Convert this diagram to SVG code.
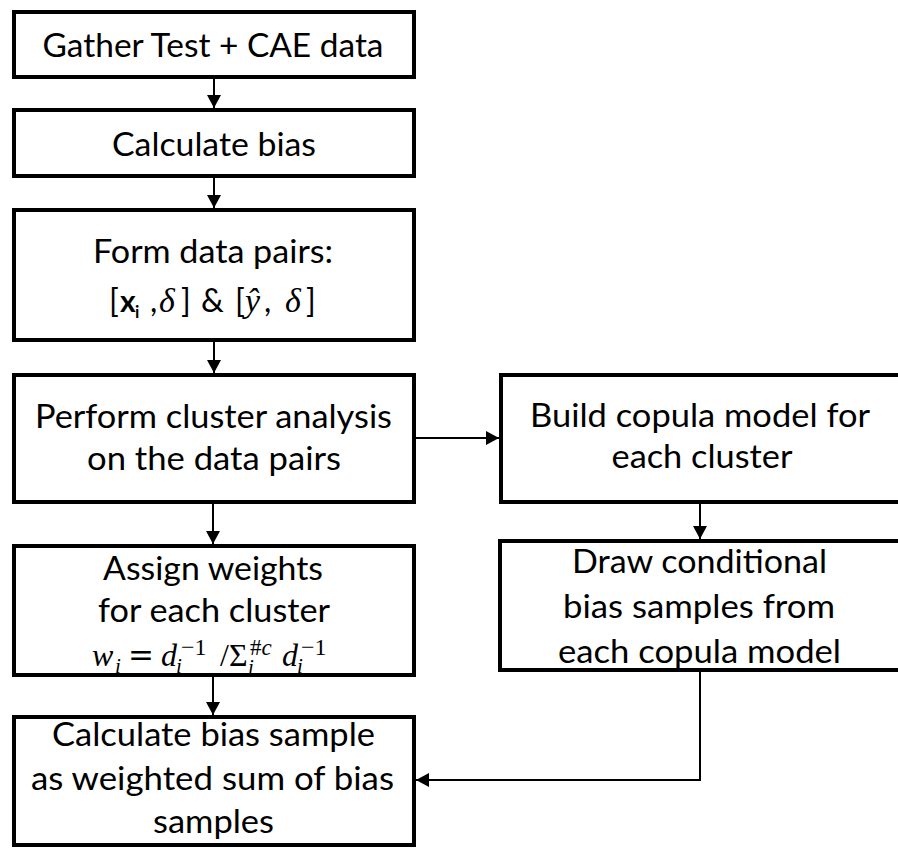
<svg xmlns="http://www.w3.org/2000/svg" width="898" height="848" viewBox="0 0 898 848">
  <style>
    .box { fill: #ffffff; stroke: #000000; stroke-width: 4; }
    .t { font-family: Lato, "Open Sans", "Liberation Sans", sans-serif; font-size: 32px; fill: #000000; text-anchor: middle; }
    .m { font-family: "Liberation Serif", "DejaVu Serif", serif; font-style: italic; font-size: 32px; fill: #000000; }
    .up { font-family: Lato, "Liberation Sans", sans-serif; font-style: normal; }
    .conn { fill: none; stroke: #000000; stroke-width: 2; }
  </style>
  <defs>
    <marker id="arrow" markerUnits="userSpaceOnUse" markerWidth="14" markerHeight="14" refX="13" refY="7" orient="auto">
      <path d="M0,0 L13,7 L0,14 z" fill="#000000"/>
    </marker>
  </defs>

  <rect width="898" height="848" fill="#ffffff"/>

  <!-- connectors -->
  <g id="connectors">
    <line class="conn" x1="214" y1="79" x2="214" y2="108" marker-end="url(#arrow)"/>
    <line class="conn" x1="214" y1="178" x2="214" y2="208" marker-end="url(#arrow)"/>
    <line class="conn" x1="214" y1="342" x2="214" y2="373" marker-end="url(#arrow)"/>
    <line class="conn" x1="213" y1="504" x2="213" y2="544" marker-end="url(#arrow)"/>
    <line class="conn" x1="213" y1="677" x2="213" y2="715" marker-end="url(#arrow)"/>
    <line class="conn" x1="416" y1="438" x2="499" y2="438" marker-end="url(#arrow)"/>
    <line class="conn" x1="700" y1="504" x2="700" y2="539" marker-end="url(#arrow)"/>
    <polyline class="conn" points="700,672 700,780 416,780" marker-end="url(#arrow)"/>
  </g>

  <!-- process steps -->
  <g id="gather">
    <rect class="box" x="14" y="12" width="400" height="65"/>
    <text class="t" x="213" y="57" textLength="341" lengthAdjust="spacingAndGlyphs">Gather Test + CAE data</text>
  </g>

  <g id="calc-bias">
    <rect class="box" x="14" y="110" width="400" height="66"/>
    <text class="t" x="214" y="156" textLength="204" lengthAdjust="spacingAndGlyphs">Calculate bias</text>
  </g>

  <g id="data-pairs">
    <rect class="box" x="14" y="210" width="400" height="130"/>
    <text class="t" x="213" y="263" textLength="240" lengthAdjust="spacingAndGlyphs">Form data pairs:</text>
    <text class="m" y="312"><tspan class="up" x="109">[</tspan><tspan class="up" x="120" font-size="30" font-weight="bold">x</tspan><tspan class="up" x="135" y="318" font-size="17" font-weight="bold">i</tspan><tspan class="up" x="150" y="312">,</tspan><tspan x="159" font-size="34">δ</tspan><tspan class="up" x="181">]</tspan><tspan class="up" x="201">&amp;</tspan><tspan class="up" x="235">[</tspan><tspan x="245" font-size="34">ŷ</tspan><tspan class="up" x="264">,</tspan><tspan x="285" font-size="34">δ</tspan><tspan class="up" x="306">]</tspan></text>
  </g>

  <g id="cluster">
    <rect class="box" x="14" y="375" width="400" height="127"/>
    <text class="t" x="213.5" y="428" textLength="357" lengthAdjust="spacingAndGlyphs">Perform cluster analysis</text>
    <text class="t" x="214" y="470" textLength="254" lengthAdjust="spacingAndGlyphs">on the data pairs</text>
  </g>

  <g id="copula">
    <rect class="box" x="501" y="375" width="420" height="127"/>
    <text class="t" x="700" y="427" textLength="340" lengthAdjust="spacingAndGlyphs">Build copula model for</text>
    <text class="t" x="702" y="468" textLength="181" lengthAdjust="spacingAndGlyphs">each cluster</text>
  </g>

  <g id="weights">
    <rect class="box" x="14" y="546" width="400" height="129"/>
    <text class="t" x="213" y="580" textLength="220" lengthAdjust="spacingAndGlyphs">Assign weights</text>
    <text class="t" x="214" y="622" textLength="232" lengthAdjust="spacingAndGlyphs">for each cluster</text>
    <!-- w_i = d_i^-1 / Σ_i^#c d_i^-1 -->
    <text class="m" y="666"><tspan x="92">w</tspan><tspan x="115" y="673" font-size="21">i</tspan><tspan x="128" y="666" font-style="normal" font-family="DejaVu Serif, serif" font-size="31">=</tspan><tspan x="161">d</tspan><tspan x="176" y="673" font-size="21">i</tspan><tspan x="181" y="655" font-style="normal" font-size="24">−1</tspan><tspan x="220" y="666" font-style="normal">/</tspan><tspan x="229" font-style="normal">Σ</tspan><tspan x="248" y="674" font-size="21">i</tspan><tspan x="250" y="655" font-size="23" font-style="normal">#</tspan><tspan font-size="23">c</tspan><tspan x="282" y="666">d</tspan><tspan x="297" y="673" font-size="21">i</tspan><tspan x="301" y="655" font-style="normal" font-size="24">−1</tspan></text>
  </g>

  <g id="draw-samples">
    <rect class="box" x="500" y="541" width="420" height="129"/>
    <text class="t" x="699.5" y="573" textLength="255" lengthAdjust="spacingAndGlyphs">Draw conditional</text>
    <text class="t" x="699" y="618" textLength="272" lengthAdjust="spacingAndGlyphs">bias samples from</text>
    <text class="t" x="699.5" y="663" textLength="283" lengthAdjust="spacingAndGlyphs">each copula model</text>
  </g>

  <g id="weighted-sum">
    <rect class="box" x="14" y="717" width="400" height="128"/>
    <text class="t" x="213.5" y="746" textLength="323" lengthAdjust="spacingAndGlyphs">Calculate bias sample</text>
    <text class="t" x="212.5" y="790" textLength="363" lengthAdjust="spacingAndGlyphs">as weighted sum of bias</text>
    <text class="t" x="213.5" y="833" textLength="121" lengthAdjust="spacingAndGlyphs">samples</text>
  </g>
</svg>
